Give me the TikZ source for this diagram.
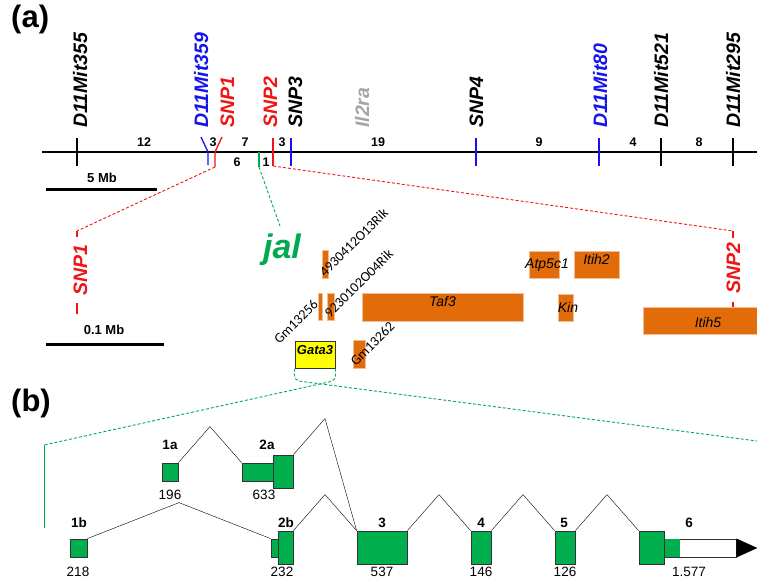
\documentclass[tikz,border=0pt]{standalone}
\usepackage{fontspec}
\setmainfont{Liberation Sans}
\newfontfamily\carlito{Carlito}
\usetikzlibrary{calc,fit,positioning}
\definecolor{mapred}{RGB}{240,20,20}
\definecolor{mapblue}{RGB}{20,20,235}
\definecolor{jalgreen}{RGB}{0,170,80}
\definecolor{exongreen}{RGB}{0,174,77}
\definecolor{geneorange}{RGB}{227,108,10}
\definecolor{il2gray}{RGB}{165,165,165}
\definecolor{gatayellow}{RGB}{255,255,0}
\tikzset{
	locus/.style={rotate=90, anchor=base west, inner sep=0pt, font=\fontsize{19.5}{20}\selectfont\bfseries\itshape},
	mapmark/.style={line width=1.3pt},
	interval/.style={inner sep=0pt, font=\fontsize{12.5}{13}\selectfont\bfseries},
	scalebar/.style={line width=3pt},
	barlabel/.style={inner sep=0pt, font=\fontsize{13}{13}\selectfont\bfseries},
	zoomline/.style={dash pattern=on 3pt off 2pt, line width=0.9pt},
	gene/.style={fill=geneorange, draw=geneorange!45!white, line width=0.6pt, inner sep=0pt, font=\fontsize{14}{14}\selectfont\itshape},
	genename/.style={inner sep=0pt, font=\fontsize{14}{14}\selectfont\itshape},
	genelabel/.style={rotate=45, inner sep=0pt, font=\carlito\fontsize{14}{14}\selectfont},
	gata/.style={fill=gatayellow, draw=black!80, line width=1pt, inner sep=0pt, font=\fontsize{13}{13}\selectfont\bfseries\itshape},
	exon/.style={fill=exongreen, draw=black!80, line width=0.8pt, inner sep=0pt},
	exonnum/.style={inner sep=0pt, font=\fontsize{13.5}{14}\selectfont\bfseries},
	exonlen/.style={inner sep=0pt, font=\fontsize{13.5}{14}\selectfont},
	splice/.style={line width=0.7pt, to path={let \p1=(\tikztostart), \p2=(\tikztotarget) in
		-- ({0.5*\x1+0.5*\x2},{\y1+36pt}) -- (\tikztotarget)}},
	panel/.style={inner sep=0pt, anchor=north west, font=\fontsize{31}{31}\selectfont\bfseries}
}

\begin{document}
\begin{tikzpicture}[x=1pt, y=-1pt]
	\useasboundingbox (0,0) rectangle (757,578);
	\node[panel] (pa) at (11,5) {(a)};
	\node[panel] (pb) at (11,389) {(b)};

	% chromosome map
	\draw[line width=1.3pt] (42,152) -- (757,152);
	\draw[mapmark] (77,138) -- (77,166);
	\draw[mapmark, mapblue] (201,137) -- (208,152) -- (208,165);
	\draw[mapmark, mapred] (222,137) -- (215,152) -- (215,167) coordinate (snp1low);
	\draw[mapmark, jalgreen] (259,152) -- (259,167) coordinate (jallow);
	\draw[mapmark, mapred] (273,138) -- (273,166) coordinate (snp2low);
	\draw[mapmark, mapblue] (291,138) -- (291,166);
	\draw[mapmark, mapblue] (476,138) -- (476,166);
	\draw[mapmark, mapblue] (599,138) -- (599,166);
	\draw[mapmark] (661,138) -- (661,166);
	\draw[mapmark] (733,138) -- (733,166);

	\node[locus] (m355) at (87,128) {D11Mit355};
	\node[locus, mapblue] (m359) at (208,128) {D11Mit359};
	\node[locus, mapred] (snp1) at (234,128) {SNP1};
	\node[locus, mapred] (snp2) at (277,128) {SNP2};
	\node[locus] (snp3) at (302,128) {SNP3};
	\node[locus, il2gray] (il2ra) at (369,128) {Il2ra};
	\node[locus] (snp4) at (483,128) {SNP4};
	\node[locus, mapblue] (m80) at (607,128) {D11Mit80};
	\node[locus] (m521) at (668,128) {D11Mit521};
	\node[locus] (m295) at (740,128) {D11Mit295};

	\node[interval] (d12) at (144,142) {12};
	\node[interval] (d3a) at (213,142) {3};
	\node[interval] (d7) at (245,142) {7};
	\node[interval] (d3b) at (282,142) {3};
	\node[interval] (d19) at (378,142) {19};
	\node[interval] (d9) at (539,142) {9};
	\node[interval] (d4) at (633,142) {4};
	\node[interval] (d8) at (699,142) {8};
	\node[interval] (d6) at (237,162) {6};
	\node[interval] (d1) at (266,162) {1};

	\draw[scalebar] (46,189) coordinate (bar5a) -- (157,189) coordinate (bar5b);
	\node[barlabel] (mb5) at (102,178) {5 Mb};

	% zoom into the jal interval
	\draw[zoomline, mapred] (snp1low) -- (77,231) coordinate (snp1top);
	\draw[mapmark, mapred] (snp1top) -- (77,237);
	\node[locus, anchor=base, mapred] (snp1z) at (87,270) {SNP1};
	\draw[mapmark, mapred] (77,303) -- (77,314);
	\draw[zoomline, mapred] (snp2low) -- (733,231) coordinate (snp2top);
	\draw[mapmark, mapred] (snp2top) -- (733,238);
	\node[locus, anchor=base, mapred] (snp2z) at (740,268) {SNP2};
	\draw[mapmark, mapred] (733,302) -- (733,307);
	\draw[zoomline, jalgreen] (jallow) -- (280,226) coordinate (jaltop);
	\node[inner sep=0pt, jalgreen, font=\fontsize{34}{34}\selectfont\bfseries\itshape] (jal) at (282,250) {jal};

	\draw[scalebar] (46,344) coordinate (bar01a) -- (164,344) coordinate (bar01b);
	\node[barlabel] (mb01) at (104,330) {0.1 Mb};

	\node[gene, fit={(322,250) (328,278)}] (g4930) {};
	\node[gene, fit={(318,293) (322,320)}] (gm56) {};
	\node[gene, fit={(327,293) (334,320)}] (g9230) {};
	\node[gene, fit={(362,293) (523,321)}] (taf3) {Taf3};
	\node[gene, fit={(353,340) (365,368)}] (gm62) {};
	\node[gata, fit={(295,341) (335,368)}] (gata3) {Gata3};
	\node[gene, fit={(529,251) (559,278)}] (atp) {};
	\node[genename] (atpname) at (547,265) {Atp5c1};
	\node[gene, fit={(574,251) (619,278)}] (itih2) {Itih2};
	\node[gene, fit={(558,294) (573,321)}] (kin) {};
	\node[genename] (kinname) at (568,307) {Kin};
	\node[gene, fit={(643,307) (757,334)}] (itih5) {};
	\node[genename] (itih5name) at (708,322) {Itih5};

	\node[genelabel, anchor=base west] (l4930) at (325,278) {4930412O13Rik};
	\node[genelabel, anchor=base west] (l9230) at (330,319) {9230102O04Rik};
	\node[genelabel, anchor=base east] (lgm56) at (319,305) {Gm13256};
	\node[genelabel, anchor=base west] (lgm62) at (356,367) {Gm13262};

	% zoom into Gata3
	\draw[zoomline, jalgreen, rounded corners=5pt] (gata3.south west) -- ++(0,12) -- (757,441);
	\draw[zoomline, jalgreen, rounded corners=5pt] (gata3.south east) -- ++(0,12) -- (44,445) coordinate (gleft);
	\draw[jalgreen, line width=0.9pt] (gleft) -- (44,528);

	% Gata3 exons
	\node[exon, fit={(162,463) (178,481)}] (e1a) {};
	\node[exon, fit={(242,463) (273,481)}] (e2as) {};
	\node[exon, fit={(273,455) (293,488)}] (e2a) {};
	\node[exon, fit={(70,539) (87,557)}] (e1b) {};
	\node[exon, fit={(271,539) (278,557)}] (e2bs) {};
	\node[exon, fit={(278,531) (293,564)}] (e2b) {};
	\node[exon, fit={(357,531) (407,564)}] (e3) {};
	\node[exon, fit={(471,531) (491,564)}] (e4) {};
	\node[exon, fit={(555,531) (575,564)}] (e5) {};
	\node[exon, fill=white, fit={(660,539) (736,557)}] (e6u) {};
	\fill[exongreen] (e6u.north west) rectangle (680,556.6);
	\node[exon, fit={(639,531) (664,564)}] (e6) {};
	\fill[black] ($(e6u.east)+(0,-9.5)$) -- ($(e6u.east)+(21,0)$) -- ($(e6u.east)+(0,9.5)$) -- cycle;

	\draw (e1a.north east) to[splice] (e2as.north west);
	\draw (e2a.north east) to[splice] (e3.north west);
	\draw (e1b.north east) to[splice] (e2bs.north west);
	\draw (e2b.north east) to[splice] (e3.north west);
	\draw (e3.north east) to[splice] (e4.north west);
	\draw (e4.north east) to[splice] (e5.north west);
	\draw (e5.north east) to[splice] (e6.north west);

	\node[exonnum] (n1a) at (170,445) {1a};
	\node[exonnum] (n2a) at (267,445) {2a};
	\node[exonnum] (n1b) at (79,523) {1b};
	\node[exonnum] (n2b) at (286,523) {2b};
	\node[exonnum] (n3) at (382,523) {3};
	\node[exonnum] (n4) at (481,523) {4};
	\node[exonnum] (n5) at (564,523) {5};
	\node[exonnum] (n6) at (689,523) {6};
	\node[exonlen] (s1a) at (170,495) {196};
	\node[exonlen] (s2a) at (264,495) {633};
	\node[exonlen] (s1b) at (78,572) {218};
	\node[exonlen] (s2b) at (282,572) {232};
	\node[exonlen] (s3) at (382,572) {537};
	\node[exonlen] (s4) at (481,572) {146};
	\node[exonlen] (s5) at (565,572) {126};
	\node[exonlen] (s6) at (689,572) {1.577};
\end{tikzpicture}
\end{document}
